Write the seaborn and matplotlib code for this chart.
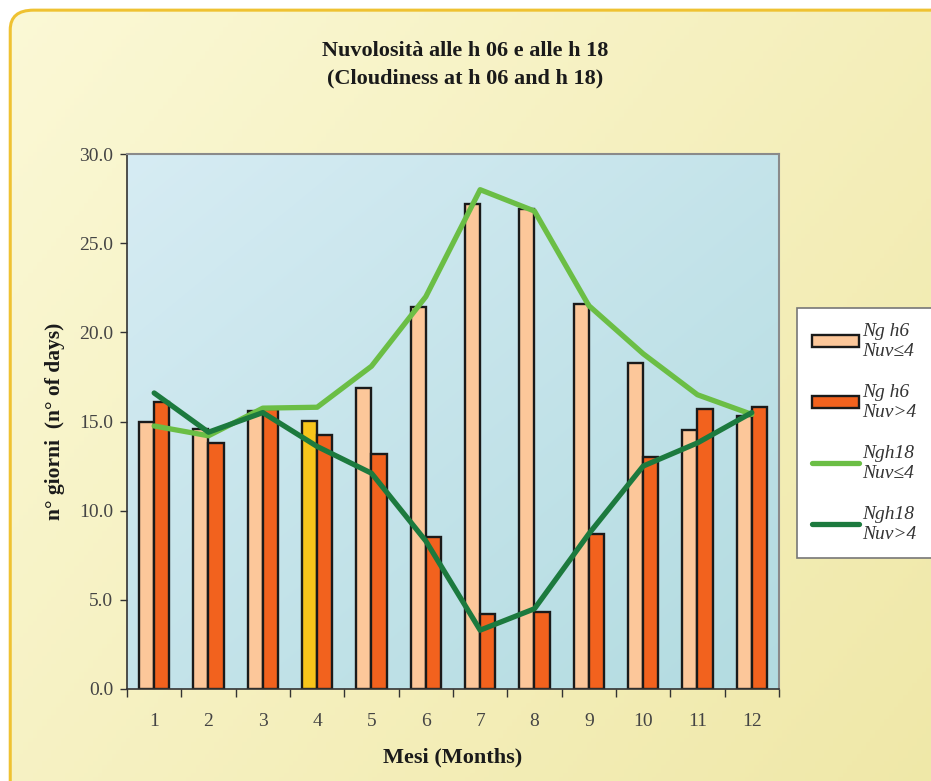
import numpy as np
import pandas as pd
import matplotlib
matplotlib.use("Agg")
import matplotlib.pyplot as plt
from matplotlib.patches import FancyBboxPatch, Patch
from matplotlib.lines import Line2D
import seaborn as sns

months = ["1", "2", "3", "4", "5", "6", "7", "8", "9", "10", "11", "12"]
ng_h6_le4 = [15.0, 14.6, 15.6, 15.05, 16.9, 21.4, 27.2, 26.9, 21.6, 18.3, 14.5, 15.3]
ng_h6_gt4 = [16.1, 13.8, 15.7, 14.25, 13.2, 8.5, 4.2, 4.3, 8.7, 13.0, 15.7, 15.8]
ngh18_le4 = [14.75, 14.2, 15.75, 15.8, 18.1, 22.0, 28.0, 26.8, 21.5, 18.8, 16.5, 15.4]
ngh18_gt4 = [16.6, 14.4, 15.5, 13.6, 12.1, 8.3, 3.3, 4.5, 8.7, 12.5, 13.8, 15.5]
yticks = [0, 5, 10, 15, 20, 25, 30]

sns.set_theme(style="white")
serif = ["Liberation Serif", "DejaVu Serif"]
plt.rcParams["font.family"] = serif

fig = plt.figure(figsize=(9.31, 7.81), dpi=100)
fig.patch.set_facecolor("white")

# figure background (yellow gradient panel with golden rounded border)
bg = fig.add_axes([0, 0, 1, 1], zorder=-10)
bg.set_axis_off()
gx = np.linspace(0, 1, 200)
gy = np.linspace(0, 1, 200)
GX, GY = np.meshgrid(gx, gy)
t = np.clip(0.6 * GX + 0.4 * (1 - GY), 0, 1)
c0 = np.array([0.985, 0.975, 0.84])
c1 = np.array([0.94, 0.91, 0.66])
img = c0[None, None, :] * (1 - t[..., None]) + c1[None, None, :] * t[..., None]
bg.set_xlim(0, 1)
bg.set_ylim(0, 1)
box = FancyBboxPatch((0.011, -0.05), 1.05, 1.037,
                     boxstyle="round,pad=0,rounding_size=0.025",
                     transform=bg.transAxes, facecolor="none",
                     edgecolor="#EFC232", linewidth=2.2, zorder=3)
bg.add_patch(box)
im = bg.imshow(img, extent=(0, 1, 0, 1), origin="lower", aspect="auto", zorder=1)
im.set_clip_path(box)

# plot area gradient
pos = [0.1364, 0.1178, 0.8367 - 0.1364, 0.8028 - 0.1178]
pa = fig.add_axes(pos, zorder=-5)
pa.set_axis_off()
t2 = np.clip(0.5 * GX + 0.5 * (1 - GY), 0, 1)
b0 = np.array([0.84, 0.925, 0.955])
b1 = np.array([0.70, 0.86, 0.88])
img2 = b0[None, None, :] * (1 - t2[..., None]) + b1[None, None, :] * t2[..., None]
pa.imshow(img2, extent=(0, 1, 0, 1), origin="lower", aspect="auto")

ax = fig.add_axes(pos, zorder=1)
ax.set_facecolor("none")

df = pd.DataFrame({
    "month": months * 2,
    "value": ng_h6_le4 + ng_h6_gt4,
    "series": ["Ng h6 Nuv≤4"] * 12 + ["Ng h6 Nuv>4"] * 12,
})
light_bar = "#FCC79A"
dark_bar = "#F2621E"
sns.barplot(data=df, x="month", y="value", hue="series",
            palette=[light_bar, dark_bar], width=0.56, gap=0,
            edgecolor="#1a1a1a", linewidth=1.7, saturation=1,
            legend=False, ax=ax, zorder=2)
# highlight month 4 (light bar) in yellow
light_patches = [p for p in ax.patches][:12]
light_patches[3].set_facecolor("#F7C51B")

lines_df = pd.DataFrame({
    "pos": list(range(12)) * 2,
    "value": ngh18_le4 + ngh18_gt4,
    "series": ["Ngh18 Nuv≤4"] * 12 + ["Ngh18 Nuv>4"] * 12,
})
light_green = "#6BBE45"
dark_green = "#1C7A3E"
sns.lineplot(data=lines_df, x="pos", y="value", hue="series",
             palette=[light_green, dark_green], linewidth=3.8,
             legend=False, ax=ax, zorder=4)

ax.set_xlim(-0.5, 11.5)
ax.set_ylim(0, 30)
ax.set_yticks(yticks)
ax.set_yticklabels([f"{v:.1f}" for v in yticks], fontsize=14, color="#444444")
ax.set_xticks(range(12))
ax.set_xticklabels(months, fontsize=14, color="#444444")
ax.set_xticks(np.arange(-0.5, 12, 1), minor=True)
ax.tick_params(axis="x", which="major", length=0, pad=17)
ax.tick_params(axis="x", which="minor", length=6, width=1, color="#333333", direction="out", bottom=True)
ax.tick_params(axis="y", which="major", length=5, width=1, color="#333333", direction="out", left=True, pad=5)
for s in ["left", "bottom"]:
    ax.spines[s].set_color("#333333")
    ax.spines[s].set_linewidth(1.2)
for s in ["top", "right"]:
    ax.spines[s].set_color("#8a8a8a")
    ax.spines[s].set_linewidth(1.5)
ax.grid(False)

ax.set_xlabel("Mesi (Months)", fontsize=16, fontweight="bold", labelpad=13, color="#1a1a1a")
ax.set_ylabel("n° giorni  (n° of days)", fontsize=15.5, fontweight="bold", labelpad=10, color="#1a1a1a")

fig.text(0.5, 0.935, "Nuvolosità alle h 06 e alle h 18", ha="center", va="center",
         fontsize=16, fontweight="bold", color="#1a1a1a")
fig.text(0.5, 0.899, "(Cloudiness at h 06 and h 18)", ha="center", va="center",
         fontsize=16, fontweight="bold", color="#1a1a1a")

handles = [
    Patch(facecolor=light_bar, edgecolor="#1a1a1a", linewidth=1.7),
    Patch(facecolor=dark_bar, edgecolor="#1a1a1a", linewidth=1.7),
    Line2D([], [], color=light_green, linewidth=3.8),
    Line2D([], [], color=dark_green, linewidth=3.8),
]
labels = ["Ng h6\nNuv≤4", "Ng h6\nNuv>4", "Ngh18\nNuv≤4", "Ngh18\nNuv>4"]
leg = fig.legend(handles, labels, loc="upper left", bbox_to_anchor=(0.856, 0.606),
                 frameon=True, fancybox=False, framealpha=1,
                 prop={"family": serif, "style": "italic", "size": 14},
                 handlelength=2.4, handleheight=0.6, handletextpad=0.15,
                 labelspacing=1.25, borderpad=0.8, borderaxespad=0)
leg.get_frame().set_edgecolor("#777777")
leg.get_frame().set_linewidth(1.2)
for txt in leg.get_texts():
    txt.set_color("#333333")

fig.savefig("out.png", dpi=100)
